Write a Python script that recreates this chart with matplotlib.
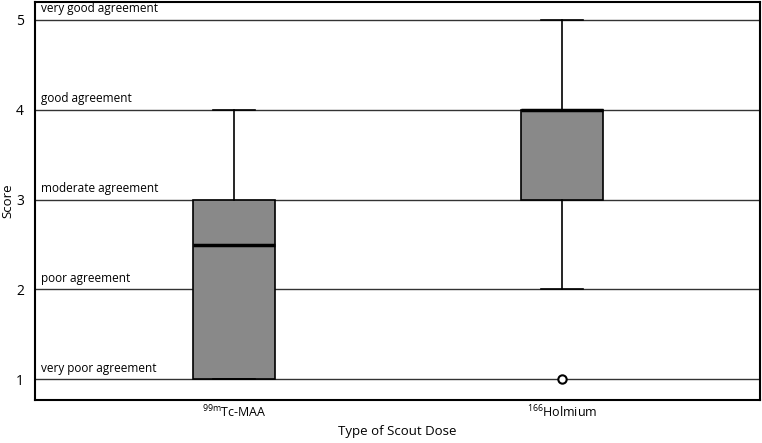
import matplotlib
matplotlib.use("Agg")
import matplotlib.pyplot as plt

plt.rcParams['font.family'] = ['Open Sans', 'DejaVu Sans']
plt.rcParams['mathtext.default'] = 'regular'

categories = [r'$^{99m}$Tc-MAA', r'$^{166}$Holmium']
whislo = [1, 2]
q1 = [1, 3]
med = [2.5, 4]
q3 = [3, 4]
whishi = [4, 5]
fliers = [[], [1]]
levels = [1, 2, 3, 4, 5]
level_labels = ['very poor agreement', 'poor agreement', 'moderate agreement',
                'good agreement', 'very good agreement']

fig = plt.figure(figsize=(7.62, 4.43), dpi=100)
ax = fig.add_axes([35/762, 43/443, 725/762, 398/443])

for lv, lab in zip(levels, level_labels):
    ax.axhline(lv, color='#333333', lw=1.0, zorder=0)
    ax.text(0.41, lv + 0.05, lab, fontsize=8.5, va='bottom', ha='left')

stats = []
for i in range(len(categories)):
    stats.append(dict(whislo=whislo[i], q1=q1[i], med=med[i], q3=q3[i],
                      whishi=whishi[i], fliers=fliers[i]))

ax.bxp(stats, positions=[1, 2], widths=0.25, patch_artist=True,
       boxprops=dict(facecolor='#898989', edgecolor='black', lw=1.2),
       medianprops=dict(color='black', lw=2.5),
       whiskerprops=dict(color='black', lw=1.2),
       capprops=dict(color='black', lw=1.2),
       capwidths=0.13,
       flierprops=dict(marker='o', markerfacecolor='white', markeredgecolor='black',
                       markersize=6, markeredgewidth=1.5))

ax.set_xlim(0.393, 2.604)
ax.set_ylim(0.77, 5.2)
ax.set_yticks(levels)
ax.set_yticklabels([str(v) for v in levels], fontsize=10)
ax.set_xticks([1, 2])
ax.set_xticklabels(categories, fontsize=9)
ax.tick_params(axis='y', length=0, pad=8)
ax.tick_params(axis='x', length=0, pad=3)
ax.set_ylabel('Score', fontsize=9.5)
ax.set_xlabel('Type of Scout Dose', fontsize=9.5)
ax.yaxis.set_label_coords(-0.028, 0.5)
ax.xaxis.set_label_coords(0.5, -0.062)
for s in ax.spines.values():
    s.set_linewidth(1.5)

fig.savefig('out.png', dpi=100)
